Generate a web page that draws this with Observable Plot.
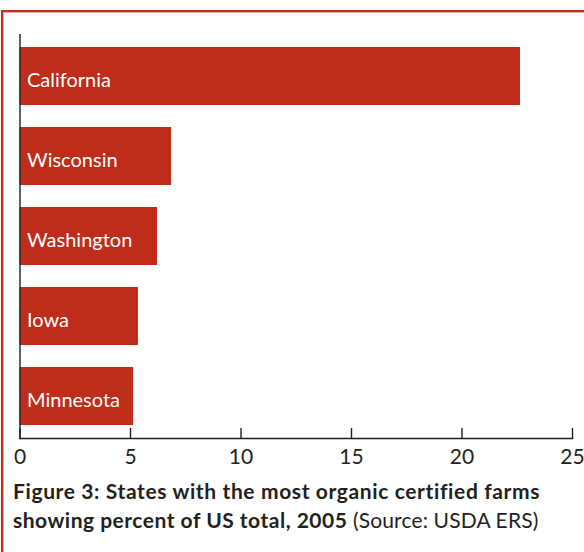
<!DOCTYPE html>
<html>
<head>
<meta charset="utf-8">
<script src="https://cdn.jsdelivr.net/npm/d3@7"></script>
<script src="https://cdn.jsdelivr.net/npm/@observablehq/plot@0.6"></script>
<style>
  html, body { margin: 0; padding: 0; background: #fff; }
  #wrap { position: relative; width: 584px; height: 552px; overflow: hidden; background: #fff; }
  #border { position: absolute; left: 1px; top: 10px; width: 640px; height: 640px;
            border: 2px solid #c3301e; box-shadow: inset 0 0 0 1px #eaa595; }
  #chart { position: absolute; left: 0; top: 0; }
  #caption { position: absolute; left: 13px; top: 476px; width: 590px; white-space: nowrap;
             font-family: Lato, sans-serif; font-size: 21px; line-height: 29px; color: #231f20; }
  #caption b { font-weight: 700; }
  #caption .l1 { letter-spacing: 0.62px; }
  #caption .l2 { letter-spacing: 0.5px; }
  #caption .src { letter-spacing: 0.15px; }
</style>
</head>
<body>
<div id="wrap">
  <div id="border"></div>
  <div id="chart"></div>
  <div id="caption"></div>
</div>
<script>
const states = ["California", "Wisconsin", "Washington", "Iowa", "Minnesota"];
const percents = [22.65, 6.86, 6.22, 5.36, 5.14];
const xTicks = [0, 5, 10, 15, 20, 25];
const captionLine1 = "Figure 3: States with the most organic certified farms";
const captionLine2 = "showing percent of US total, 2005";
const captionSource = "(Source: USDA ERS)";

const data = states.map((s, i) => ({state: s, pct: percents[i]}));
const barColor = "#bf2c1a";

const plot = Plot.plot({
  width: 584,
  height: 470,
  marginTop: 34.3,
  marginBottom: 32,
  marginLeft: 19.5,
  marginRight: 12,
  style: {fontFamily: "Lato, sans-serif", background: "transparent"},
  x: {domain: [0, 25]},
  y: {domain: states, paddingInner: 0.275, paddingOuter: 0.132},
  marks: [
    Plot.barX(data, {x: "pct", y: "state", fill: barColor}),
    Plot.frame({anchor: "left", stroke: "#231f20", strokeWidth: 1.4}),
    Plot.frame({anchor: "bottom", stroke: "#231f20", strokeWidth: 1.4}),
    Plot.axisY({ticks: [], label: null, tickSize: 0}),
    Plot.axisX({ticks: xTicks, tickFormat: d => String(d), tickSize: -10, tickPadding: 21,
                label: null, fontSize: 21, fill: "#231f20", stroke: "#231f20", strokeWidth: 1.4}),
    Plot.text(data, {x: 0, y: "state", text: "state", textAnchor: "start", dx: 7, dy: 4,
                     fill: "white", fontSize: 20})
  ]
});
document.getElementById("chart").appendChild(plot);

const cap = document.getElementById("caption");
const b1 = document.createElement("b");
b1.className = "l1";
b1.textContent = captionLine1;
cap.appendChild(b1);
cap.appendChild(document.createElement("br"));
const b2 = document.createElement("b");
b2.className = "l2";
b2.textContent = captionLine2;
cap.appendChild(b2);
const s = document.createElement("span");
s.className = "src";
s.textContent = " " + captionSource;
cap.appendChild(s);
</script>
</body>
</html>
